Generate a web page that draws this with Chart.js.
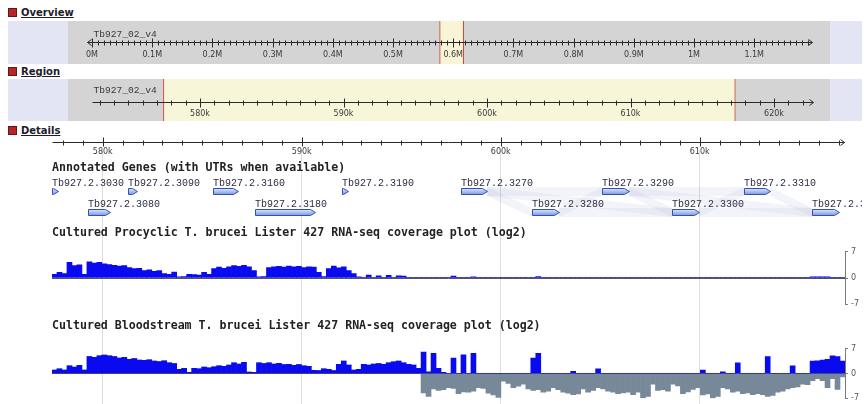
<!DOCTYPE html>
<html><head><meta charset="utf-8">
<script src="https://cdn.jsdelivr.net/npm/chart.js@4.4.0/dist/chart.umd.min.js"></script>
<style>
html,body{margin:0;padding:0;background:#fff;width:864px;height:404px;overflow:hidden;position:relative}
.hdr{position:absolute;left:8px;font:bold 10px "DejaVu Sans",sans-serif;line-height:12px;color:#1c1c2c;white-space:nowrap}
.hdr .sq{display:inline-block;width:7px;height:7px;background:#b3262a;border:1px solid #6d1214;vertical-align:-1px;margin-right:4px}
.panel{position:absolute;left:8px;width:854px;background:#e3e5f5}
.ttl{position:absolute;left:52px;font:bold 11.6px "DejaVu Sans Mono",monospace;line-height:12px;color:#222;white-space:nowrap}
canvas{position:absolute}
</style></head>
<body>
<div class="hdr" style="top:7px"><span class="sq"></span><u>Overview</u></div>
<div class="panel" style="top:21px;height:43px"></div>
<div class="hdr" style="top:66px"><span class="sq"></span><u>Region</u></div>
<div class="panel" style="top:79px;height:42px"></div>
<div class="hdr" style="top:125px"><span class="sq"></span><u>Details</u></div>

<canvas id="det" width="812" height="274" style="left:52px;top:130px"></canvas>
<canvas id="ov" width="762" height="43" style="left:68px;top:21px"></canvas>
<canvas id="rg" width="762" height="42" style="left:68px;top:79px"></canvas>
<div class="ttl" style="top:161px">Annotated Genes (with UTRs when available)</div>
<canvas id="genes" width="810" height="56" style="left:52px;top:169px"></canvas>
<div class="ttl" style="top:226px">Cultured Procyclic T. brucei Lister 427 RNA-seq coverage plot (log2)</div>
<canvas id="cov1" width="812" height="68" style="left:52px;top:244px"></canvas>
<div class="ttl" style="top:319px">Cultured Bloodstream T. brucei Lister 427 RNA-seq coverage plot (log2)</div>
<canvas id="cov2" width="812" height="65" style="left:52px;top:341px"></canvas>

<script>
// ---------------- data ----------------
const chromName = 'Tb927_02_v4';
const chromLengthMb = 1.19;
const overviewViewMb = [-0.0399, 1.2259];
const overviewTickValues = [0, 0.1, 0.2, 0.3, 0.4, 0.5, 0.6, 0.7, 0.8, 0.9, 1.0, 1.1];
const overviewTickLabels = ['0M','0.1M','0.2M','0.3M','0.4M','0.5M','0.6M','0.7M','0.8M','0.9M','1M','1.1M'];

const regionViewKb = [570.80, 623.90];
const regionRulerKb = [572.47, 622.44];
const regionTickValues = [580, 590, 600, 610, 620];
const regionTickLabels = ['580k','590k','600k','610k','620k'];

const detailViewKb = [577.45, 617.30];
const detailTickValues = [580, 590, 600, 610];
const detailTickLabels = ['580k','590k','600k','610k'];

const geneNames = ['Tb927.2.3030','Tb927.2.3080','Tb927.2.3090','Tb927.2.3160','Tb927.2.3180','Tb927.2.3190',
                   'Tb927.2.3270','Tb927.2.3280','Tb927.2.3290','Tb927.2.3300','Tb927.2.3310','Tb927.2.3320'];
const geneStartKb = [577.45, 579.26, 581.27, 585.54, 587.65, 592.02, 598.00, 601.57, 605.09, 608.61, 612.22, 615.64];
const geneEndKb   = [577.75, 580.36, 581.72, 586.80, 590.67, 592.32, 599.31, 602.93, 606.45, 609.96, 613.53, 616.99];
const geneRow     = ['r1','r2','r1','r1','r2','r1','r1','r2','r1','r2','r1','r2'];
const geneFamilyLinks = [[6,7],[6,8],[7,8],[7,9],[8,9],[8,10],[9,10],[9,11],[10,11],[6,9],[8,11]];

const coverageBinKb = 0.25;
const procyclic = [
 1.0,1.5,1.2,4.2,3.3,3.5,1.0,4.3,4.0,4.2,
 3.8,3.6,3.4,3.2,3.3,2.8,2.5,2.6,2.0,2.2,
 1.8,2.0,1.2,1.0,1.6,0.3,0.4,1.0,0.9,0.8,
 1.5,1.0,2.5,2.9,2.6,3.0,3.3,3.1,3.4,3.0,
 2.0,0.3,0.4,2.8,3.0,3.1,2.9,3.2,3.0,3.1,
 2.8,3.0,2.9,1.5,0.4,2.5,3.2,2.7,3.0,2.0,
 1.2,0.3,0.2,0.8,0.1,0.6,0.1,0.7,0.1,0.6,
 0.5,0.1,0.1,0.2,0.1,0.1,0.1,0.1,0.1,0.1,
 0.5,0.1,0.1,0.1,0.3,0.1,0.1,0.1,0.1,0.1,
 0.1,0.1,0.1,0.1,0.1,0.1,0.1,0.4,0.1,0.1,
 0.1,0.1,0.2,0.1,0.1,0.1,0.1,0.1,0.1,0.1,
 0.1,0.1,0.1,0.1,0.1,0.1,0.1,0.1,0.1,0.1,
 0.1,0.1,0.1,0.1,0.1,0.1,0.1,0.1,0.1,0.1,
 0.1,0.1,0.1,0.1,0.1,0.1,0.1,0.1,0.1,0.1,
 0.1,0.1,0.1,0.1,0.1,0.1,0.1,0.1,0.1,0.1,
 0.1,0.1,0.3,0.3,0.3,0.3,0.1,0.1,0.1];
const bloodstreamPos = [
 1.0,1.3,1.0,2.2,1.8,2.3,1.0,4.8,4.6,5.0,
 5.2,5.0,4.8,4.4,4.6,4.0,4.2,3.8,3.7,3.9,
 3.5,3.4,3.6,3.0,2.8,1.2,1.5,0.3,1.5,1.3,
 1.8,1.6,1.9,2.2,2.0,2.4,3.0,2.7,3.2,0.4,
 0.3,3.0,2.8,3.0,2.7,2.9,2.5,2.6,2.3,2.5,
 2.2,2.0,0.9,0.8,1.3,1.2,0.8,2.6,3.5,2.4,
 1.0,1.2,2.6,2.4,2.7,2.8,2.6,3.0,3.3,3.5,
 3.0,2.6,2.4,1.5,6.1,0.5,5.7,1.5,0.3,0,
 4.4,0,5.3,0,5.7,0,0,0,0,0,
 0,0,0,0,0,0,4.4,5.7,0,0,
 0,0,0,0,0.6,0,0,0,0,1.3,
 0,0,0,0,0,0,0,0,0,0,
 0,0,0,0,0,0,0,0,0,0,
 1.0,0,0,0,0.5,0,0,3.0,0,0,
 0,0,0,4.8,0,0,0,0,2.2,0,
 0,0,3.5,3.6,3.8,4.0,5.0,4.8,3.5];
const bloodstreamNeg = [
 0,0,0,0,0,0,0,0,0,0,
 0,0,0,0,0,0,0,0,0,0,
 0,0,0,0,0,0,0,0,0,0,
 0,0,0,0,0,0,0,0,0,0,
 0,0,0,0,0,0,0,0,0,0,
 0,0,0,0,0,0,0,0,0,0,
 0,0,0,0,0,0,0,0,0,0,
 0,0,0,0,-5.5,-6.5,-4.4,-4.8,-4.6,-4.0,
 -4.2,-5.7,-5.2,-5.3,-5.0,-4.0,-4.2,-5.6,-6.1,-6.8,
 -2.2,-2.8,-4.0,-3.6,-3.0,-4.4,-4.8,-4.6,-5.3,-5.0,
 -4.0,-4.6,-5.3,-5.6,-6.0,-5.8,-4.4,-5.3,-4.8,-4.0,
 -4.4,-5.0,-5.3,-5.7,-5.5,-5.3,-6.0,-5.3,-7.0,-6.5,
 -3.0,-4.8,-4.6,-5.0,-3.0,-3.5,-5.7,-5.2,-4.5,-4.0,
 -6.1,-5.8,-7.0,-6.5,-4.0,-4.4,-5.3,-5.0,-5.7,-5.5,
 -6.0,-5.7,-6.0,-6.5,-6.2,-5.3,-5.0,-4.4,-4.0,-3.8,
 -3.0,-3.2,-2.0,-1.5,-2.0,-4.0,-1.5,-4.5,-1.0];
const coverageTicks = [-7, 0, 7];

// ---------------- helpers ----------------
Chart.defaults.animation = false;
Chart.defaults.events = [];
const noPlug = {legend:{display:false}, tooltip:{enabled:false}};

function panelBg(color){
  return {id:'panelBg', beforeDraw(chart){
    const a = chart.chartArea, c = chart.ctx;
    c.save(); c.fillStyle = color; c.fillRect(a.left, a.top, a.right - a.left, a.bottom - a.top); c.restore();
  }};
}

function rulerPlugin(o){
  return {id:'ruler', afterDatasetsDraw(chart){
    const sx = chart.scales.x, c = chart.ctx;
    const y = Math.round(o.y) + 0.5;
    const px = v => Math.round(sx.getPixelForValue(v)) + 0.5;
    const x0 = px(o.from), x1 = px(o.to);
    c.save();
    c.strokeStyle = o.color; c.fillStyle = o.color; c.lineWidth = 1;
    c.beginPath(); c.moveTo(x0 - (o.leftArrow ? 5 : 0), y); c.lineTo(x1 + 4, y); c.stroke();
    c.beginPath(); c.moveTo(x1, y - 3); c.lineTo(x1 + 4, y); c.lineTo(x1, y + 3); c.stroke();
    if (o.leftArrow){ c.beginPath(); c.moveTo(x0 - 1, y - 3); c.lineTo(x0 - 5, y); c.lineTo(x0 - 1, y + 3); c.stroke(); }
    const ratio = Math.round(o.major / o.minor);
    const k0 = Math.ceil(o.from / o.minor - 1e-9), k1 = Math.floor(o.to / o.minor + 1e-9);
    c.beginPath();
    for (let k = k0; k <= k1; k++){
      const v = k * o.minor, x = px(v);
      const maj = (k % ratio) === 0;
      const up = maj ? o.majUp : o.minLen, dn = maj ? o.majDn : o.minLen;
      c.moveTo(x, y - up); c.lineTo(x, y + dn + 1);
    }
    c.stroke();
    c.font = o.font; c.fillStyle = o.textColor; c.textAlign = 'center'; c.textBaseline = 'top';
    o.labelValues.forEach((v, i) => c.fillText(o.labels[i], sx.getPixelForValue(v), y + o.labelDy));
    if (o.name){
      c.font = o.nameFont; c.textAlign = 'left'; c.textBaseline = 'alphabetic';
      c.fillText(o.name, x0 + 1, y - o.nameDy);
    }
    c.restore();
  }};
}

// ---------------- overview ----------------
new Chart(document.getElementById('ov'), {
  type:'bar',
  data:{labels:['chrom'], datasets:[{
    data:[[detailViewKb[0]/1000, detailViewKb[1]/1000]],
    backgroundColor:'#f8f5d6', borderColor:'#cc3b33',
    borderWidth:{left:1,right:1,top:0,bottom:0}, borderSkipped:false,
    barPercentage:1, categoryPercentage:1}]},
  options:{indexAxis:'y', responsive:false, layout:{padding:0}, plugins:noPlug,
    scales:{x:{type:'linear', display:false, min:overviewViewMb[0], max:overviewViewMb[1]}, y:{display:false}}},
  plugins:[panelBg('#d4d4d5'), rulerPlugin({y:21, from:0, to:chromLengthMb, minor:0.01, major:0.1,
    minLen:2, majUp:4, majDn:4, leftArrow:true, color:'#2a2a2a', textColor:'#3a3a3a',
    font:'8px "DejaVu Sans"', labelDy:8, labelValues:overviewTickValues, labels:overviewTickLabels,
    name:chromName, nameFont:'9.6px "Liberation Mono"', nameDy:6})]
});

// ---------------- region ----------------
new Chart(document.getElementById('rg'), {
  type:'bar',
  data:{labels:['region'], datasets:[{
    data:[[detailViewKb[0], detailViewKb[1]]],
    backgroundColor:'#f8f6d9', borderColor:'#c9433a',
    borderWidth:{left:1,right:1,top:0,bottom:0}, borderSkipped:false,
    barPercentage:1, categoryPercentage:1}]},
  options:{indexAxis:'y', responsive:false, layout:{padding:0}, plugins:noPlug,
    scales:{x:{type:'linear', display:false, min:regionViewKb[0], max:regionViewKb[1]}, y:{display:false}}},
  plugins:[panelBg('#d4d4d5'), rulerPlugin({y:23, from:regionRulerKb[0], to:regionRulerKb[1], minor:1, major:10,
    minLen:2, majUp:4, majDn:4, leftArrow:false, color:'#2a2a2a', textColor:'#3a3a3a',
    font:'8px "DejaVu Sans"', labelDy:7, labelValues:regionTickValues, labels:regionTickLabels,
    name:chromName, nameFont:'9.6px "Liberation Mono"', nameDy:10})]
});

// ---------------- details background (grid + ruler) ----------------
new Chart(document.getElementById('det'), {
  type:'scatter',
  data:{datasets:[{data:[]}]},
  options:{responsive:false, layout:{padding:{top:20, right:19, left:0, bottom:0}}, plugins:noPlug,
    scales:{
      x:{type:'linear', min:detailViewKb[0], max:detailViewKb[1], display:true,
         afterBuildTicks:s => { s.ticks = detailTickValues.map(v => ({value:v})); },
         ticks:{display:false}, border:{display:false},
         grid:{color:'#dedede', drawTicks:false, lineWidth:1}},
      y:{display:false, min:0, max:1}}},
  plugins:[rulerPlugin({y:12, from:detailViewKb[0], to:detailViewKb[1] - 0.25, minor:1, major:10,
    minLen:2, majUp:5, majDn:3, leftArrow:false, color:'#2a2a2a', textColor:'#3a3a3a',
    font:'8px "DejaVu Sans"', labelDy:5, labelValues:detailTickValues, labels:detailTickLabels})]
});

// ---------------- genes ----------------
const geneLinksPlugin = {id:'geneLinks', beforeDatasetsDraw(chart){
  const els = chart.getDatasetMeta(0).data, c = chart.ctx;
  c.save(); c.fillStyle = 'rgba(160,172,212,0.13)';
  geneFamilyLinks.forEach(([a, b]) => {
    const A = els[a].getProps(['x','y','base','height'], true), B = els[b].getProps(['x','y','base','height'], true);
    const ar = Math.max(A.x, A.base), bl = Math.min(B.x, B.base);
    c.beginPath();
    c.moveTo(ar, A.y - A.height/2 - 1); c.lineTo(bl, B.y - B.height/2 - 1);
    c.lineTo(bl, B.y + B.height/2 + 1); c.lineTo(ar, A.y + A.height/2 + 1); c.closePath(); c.fill();
  });
  c.restore();
}};
const geneGlyphPlugin = {id:'geneGlyph', afterDatasetsDraw(chart){
  const els = chart.getDatasetMeta(0).data, c = chart.ctx;
  c.save();
  els.forEach((el, i) => {
    const p = el.getProps(['x','y','base','height'], true);
    const l = Math.round(Math.min(p.x, p.base)) + 0.5, r = Math.round(Math.max(p.x, p.base)) + 0.5;
    const t = Math.round(p.y - p.height/2) + 0.5, b = t + p.height - 1;
    const ah = Math.min(5, r - l);
    const g = c.createLinearGradient(0, t, 0, b);
    g.addColorStop(0, '#dbe5fb'); g.addColorStop(1, '#7d9ae0');
    c.beginPath();
    c.moveTo(l, t); c.lineTo(r - ah, t); c.lineTo(r, (t + b)/2); c.lineTo(r - ah, b); c.lineTo(l, b); c.closePath();
    c.fillStyle = g; c.fill(); c.strokeStyle = '#3050b8'; c.lineWidth = 1; c.stroke();
    c.font = '10px "Liberation Mono"'; c.fillStyle = '#2d2d44'; c.textAlign = 'left'; c.textBaseline = 'alphabetic';
    c.fillText(geneNames[i], l - 0.5, t - 3);
  });
  c.restore();
}};
new Chart(document.getElementById('genes'), {
  type:'bar',
  data:{labels:['r1','r2'], datasets:[{
    data:geneNames.map((n, i) => ({x:[geneStartKb[i], geneEndKb[i]], y:geneRow[i]})),
    backgroundColor:'rgba(0,0,0,0)', borderWidth:0, barThickness:7}]},
  options:{indexAxis:'y', responsive:false, layout:{padding:{top:12, bottom:2, left:0, right:17}}, plugins:noPlug,
    scales:{x:{type:'linear', display:false, min:detailViewKb[0], max:detailViewKb[1]}, y:{display:false}}},
  plugins:[geneLinksPlugin, geneGlyphPlugin]
});

// ---------------- coverage tracks ----------------
const binLabels = procyclic.map((v, i) => (detailViewKb[0] + i * coverageBinKb).toFixed(2));
function coverageChart(id, datasets){
  return new Chart(document.getElementById(id), {
    type:'bar',
    data:{labels:binLabels, datasets},
    options:{responsive:false, layout:{padding:{top:6, bottom:6, left:0, right:0}}, plugins:noPlug,
      datasets:{bar:{barPercentage:1, categoryPercentage:1, borderWidth:0}},
      scales:{
        x:{display:false, stacked:true},
        y:{position:'right', stacked:true, min:-7, max:7,
           afterBuildTicks:s => { s.ticks = coverageTicks.map(v => ({value:v})); },
           afterFit:s => { s.width = 19; },
           ticks:{font:{size:8, family:'DejaVu Sans'}, color:'#555', padding:3},
           border:{display:true, color:'#7a7a7a'},
           grid:{color:ctx => (ctx.tick && ctx.tick.value === 0) ? '#555' : 'rgba(0,0,0,0)',
                 tickColor:'#7a7a7a', tickLength:3, drawOnChartArea:true}}}}
  });
}
coverageChart('cov1', [{data:procyclic, backgroundColor:'#0a0af0'}]);
coverageChart('cov2', [
  {data:bloodstreamPos, backgroundColor:'#0a0af0'},
  {data:bloodstreamNeg, backgroundColor:'#778899'}]);
</script>
</body></html>
